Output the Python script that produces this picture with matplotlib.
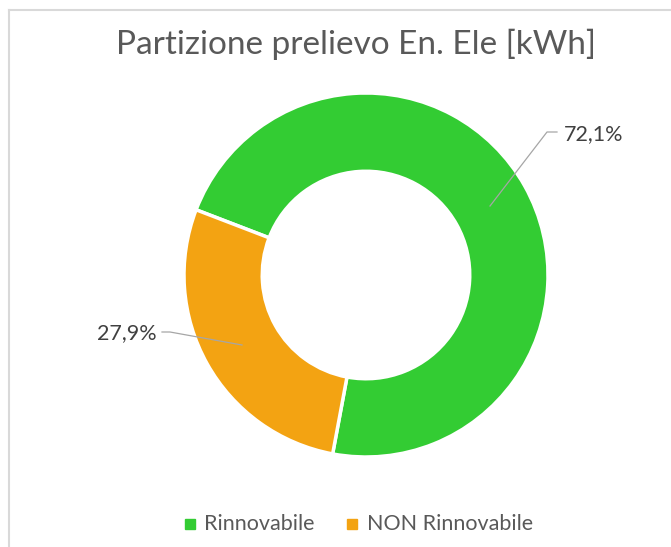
import matplotlib.pyplot as plt
from matplotlib.lines import Line2D
from matplotlib.patches import Rectangle

# data
categories = ['Rinnovabile', 'NON Rinnovabile']
shares = [72.1, 27.9]
labels = ['72,1%', '27,9%']
colors = ['#33CC33', '#F3A312']
title = 'Partizione prelievo En. Ele [kWh]'

W, H = 671, 547
fig = plt.figure(figsize=(W / 100, H / 100), dpi=100)
plt.rcParams['font.family'] = ['Lato', 'DejaVu Sans']

# donut centre (366, 275) px from top-left, outer radius 182 px
cx, cy, R = 366, 275, 182
ax = fig.add_axes([(cx - R) / W, (H - cy - R) / H, 2 * R / W, 2 * R / H])
ax.set_xlim(-1, 1)
ax.set_ylim(-1, 1)
ax.axis('off')

wedges, _ = ax.pie(shares, colors=colors, startangle=159, counterclock=False,
                   radius=1, wedgeprops=dict(width=0.43, edgecolor='white', linewidth=2.5))
ax.set_xlim(-1, 1)
ax.set_ylim(-1, 1)

def to_data(px, py):
    return (px - cx) / R, (cy - py) / R

# leader lines + labels
lead = [[(490, 206), (547, 132), (557, 132)],
        [(242, 345), (170, 332), (162, 332)]]
text_pos = [((564, 134), 'left'), ((157, 333), 'right')]
for pts, (tp, ha), lab in zip(lead, text_pos, labels):
    xs, ys = zip(*[to_data(*p) for p in pts])
    ax.add_line(Line2D(xs, ys, color='#A6A6A6', lw=0.9, clip_on=False))
    tx, ty = to_data(*tp)
    ax.text(tx, ty, lab, ha=ha, va='center', fontsize=15.5, color='#404040', clip_on=False)

fig.text(356 / W, 1 - 44 / H, title, ha='center', va='center', fontsize=24, color='#595959')

# legend
leg_items = [(190, 204), (352, 367)]
for (sx, tx), cat, col in zip(leg_items, categories, colors):
    fig.patches.append(Rectangle(((sx - 5) / W, 1 - 529 / H), 10 / W, 10 / H,
                                 transform=fig.transFigure, color=col))
    fig.text(tx / W, 1 - 524 / H, cat, ha='left', va='center', fontsize=15.5, color='#595959')

# chart frame
fig.add_artist(Line2D([9 / W, 1], [1 - 10 / H, 1 - 10 / H], color='#D9D9D9', lw=1.5))
fig.add_artist(Line2D([9 / W, 9 / W], [0, 1 - 10 / H], color='#D9D9D9', lw=1.5))

fig.savefig('out.png', dpi=100)
